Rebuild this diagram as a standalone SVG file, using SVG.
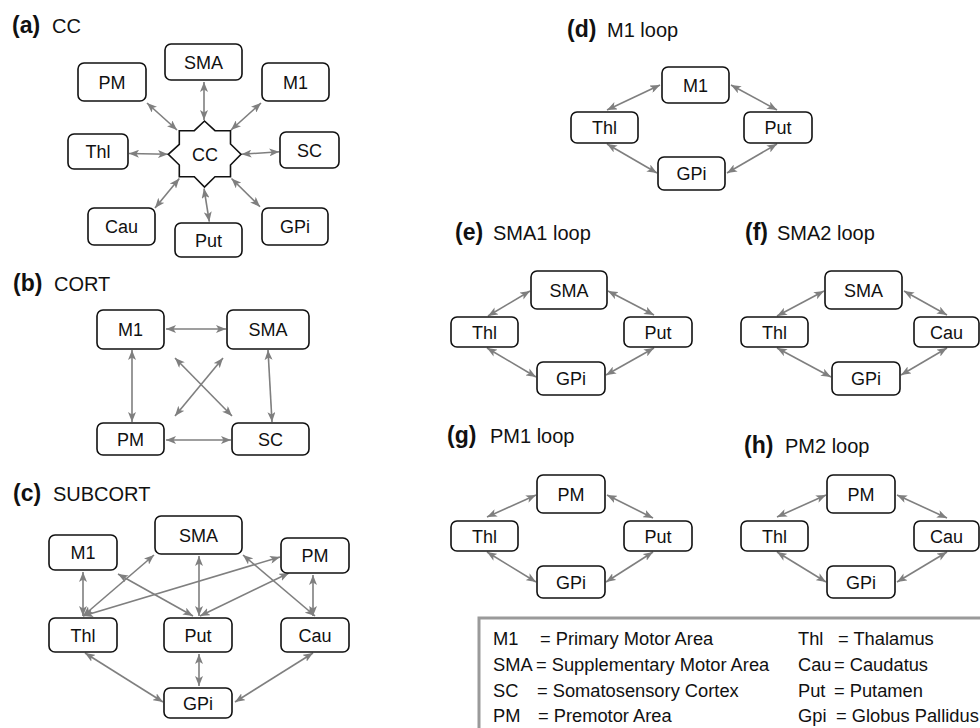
<svg xmlns="http://www.w3.org/2000/svg" width="980" height="728" viewBox="0 0 980 728">
<defs>
<marker id="ah" viewBox="0 0 10 8" refX="10" refY="4" markerWidth="10" markerHeight="8" markerUnits="userSpaceOnUse" orient="auto-start-reverse">
<path d="M0,0 L10,4 L0,8 L2.5,4 Z" fill="#7f7f7f"/>
</marker>
<style>
text{font-family:"Liberation Sans",Arial,sans-serif;fill:#111}
.box{fill:#fff;stroke:#111;stroke-width:1.6}
.lbl{font-size:18px;text-anchor:middle}
.edge{stroke:#7f7f7f;stroke-width:1.6;fill:none;marker-start:url(#ah);marker-end:url(#ah)}
.tl{font-size:23px;font-weight:bold}
.tn{font-size:20px}
.lg{font-size:18.3px}
</style>
</defs>
<rect width="980" height="728" fill="#fff"/>

<!-- titles -->
<g id="titles">
<text x="12" y="33"><tspan class="tl">(a)</tspan><tspan class="tn" x="52">CC</tspan></text>
<text x="13" y="291"><tspan class="tl">(b)</tspan><tspan class="tn" x="54">CORT</tspan></text>
<text x="13" y="501"><tspan class="tl">(c)</tspan><tspan class="tn" x="53">SUBCORT</tspan></text>
<text x="567" y="37"><tspan class="tl">(d)</tspan><tspan class="tn" x="607">M1 loop</tspan></text>
<text x="455" y="240"><tspan class="tl">(e)</tspan><tspan class="tn" x="493">SMA1 loop</tspan></text>
<text x="745" y="240"><tspan class="tl">(f)</tspan><tspan class="tn" x="777">SMA2 loop</tspan></text>
<text x="447" y="443"><tspan class="tl">(g)</tspan><tspan class="tn" x="490">PM1 loop</tspan></text>
<text x="744" y="453"><tspan class="tl">(h)</tspan><tspan class="tn" x="785">PM2 loop</tspan></text>
</g>

<!-- connectors -->
<g id="connectors">
<!-- (a) -->
<line class="edge" x1="204" y1="82" x2="204" y2="120"/>
<line class="edge" x1="147" y1="103" x2="177" y2="130"/>
<line class="edge" x1="261" y1="103" x2="231" y2="130"/>
<line class="edge" x1="129" y1="153.5" x2="168" y2="154.3"/>
<line class="edge" x1="241.5" y1="154.3" x2="279.3" y2="151.7"/>
<line class="edge" x1="155" y1="208" x2="179.3" y2="178.5"/>
<line class="edge" x1="209.3" y1="221.7" x2="204" y2="188.5"/>
<line class="edge" x1="260" y1="206.7" x2="231.5" y2="178.5"/>
<!-- (b) -->
<line class="edge" x1="166" y1="329" x2="226" y2="329"/>
<line class="edge" x1="132" y1="350" x2="132" y2="422"/>
<line class="edge" x1="268" y1="350" x2="272" y2="422"/>
<line class="edge" x1="166" y1="440" x2="231" y2="440"/>
<line class="edge" x1="175" y1="358" x2="232" y2="416"/>
<line class="edge" x1="223" y1="358" x2="175" y2="416"/>
<!-- (c) -->
<line class="edge" x1="83" y1="572" x2="83" y2="616"/>
<line class="edge" x1="83" y1="616" x2="154" y2="555"/>
<line class="edge" x1="83" y1="616" x2="280" y2="557"/>
<line class="edge" x1="118" y1="574" x2="193" y2="616"/>
<line class="edge" x1="199" y1="556" x2="199" y2="616"/>
<line class="edge" x1="289" y1="573" x2="200" y2="616"/>
<line class="edge" x1="243" y1="555" x2="315" y2="616"/>
<line class="edge" x1="313" y1="575" x2="313" y2="616"/>
<line class="edge" x1="85" y1="653" x2="163" y2="702"/>
<line class="edge" x1="199" y1="654" x2="199" y2="686"/>
<line class="edge" x1="313" y1="653" x2="235" y2="702"/>
<!-- (d) -->
<line class="edge" x1="607" y1="110" x2="660" y2="85"/>
<line class="edge" x1="731" y1="85" x2="777" y2="110"/>
<line class="edge" x1="607" y1="144" x2="657" y2="173"/>
<line class="edge" x1="777" y1="144" x2="727" y2="173"/>
<!-- (e) -->
<line class="edge" x1="488" y1="316" x2="530" y2="291"/>
<line class="edge" x1="608" y1="291" x2="654" y2="315"/>
<line class="edge" x1="487" y1="348" x2="536" y2="377"/>
<line class="edge" x1="654" y1="348" x2="606" y2="375"/>
<!-- (f) -->
<line class="edge" x1="777" y1="316" x2="824" y2="291"/>
<line class="edge" x1="904" y1="291" x2="947" y2="315"/>
<line class="edge" x1="777" y1="348" x2="831" y2="377"/>
<line class="edge" x1="947" y1="348" x2="901" y2="375"/>
<!-- (g) -->
<line class="edge" x1="487" y1="517" x2="536" y2="495"/>
<line class="edge" x1="607" y1="495" x2="653" y2="518"/>
<line class="edge" x1="487" y1="552" x2="536" y2="582"/>
<line class="edge" x1="653" y1="552" x2="606" y2="582"/>
<!-- (h) -->
<line class="edge" x1="777" y1="517" x2="826" y2="495"/>
<line class="edge" x1="897" y1="495" x2="947" y2="518"/>
<line class="edge" x1="777" y1="552" x2="826" y2="582"/>
<line class="edge" x1="947" y1="552" x2="897" y2="582"/>
</g>

<!-- (a) CC nodes -->
<g id="a-CC"><path class="box" d="M179.3,130.7 L194.3,130.7 L204.5,121 L215,130.7 L230.5,130.7 L230.5,144 L241,154.3 L230.5,165 L230.5,176.7 L215,176.7 L204.5,187 L194.3,176.7 L179.3,176.7 L179.3,165 L168.3,154.3 L179.3,144.3 Z"/><text class="lbl" x="205" y="160.5">CC</text></g>
<g id="a-SMA"><rect class="box" x="165" y="44" width="77" height="36" rx="6"/><text class="lbl" x="203.5" y="68.5">SMA</text></g>
<g id="a-PM"><rect class="box" x="78" y="63" width="68" height="38" rx="6"/><text class="lbl" x="112" y="88.5">PM</text></g>
<g id="a-M1"><rect class="box" x="262" y="63" width="67" height="38" rx="6"/><text class="lbl" x="295.5" y="88.5">M1</text></g>
<g id="a-Thl"><rect class="box" x="68" y="134" width="60" height="35" rx="6"/><text class="lbl" x="98" y="158">Thl</text></g>
<g id="a-SC"><rect class="box" x="280" y="132" width="59" height="36" rx="6"/><text class="lbl" x="309.5" y="156.5">SC</text></g>
<g id="a-Cau"><rect class="box" x="88" y="208" width="67" height="37" rx="6"/><text class="lbl" x="121.5" y="233">Cau</text></g>
<g id="a-Put"><rect class="box" x="175" y="223" width="67" height="34" rx="6"/><text class="lbl" x="208.5" y="246.5">Put</text></g>
<g id="a-GPi"><rect class="box" x="262" y="208" width="66" height="37" rx="6"/><text class="lbl" x="295" y="233">GPi</text></g>

<!-- (b) CORT nodes -->
<g id="b-M1"><rect class="box" x="97" y="310" width="67" height="39" rx="6"/><text class="lbl" x="130.5" y="336">M1</text></g>
<g id="b-SMA"><rect class="box" x="227" y="310" width="82" height="39" rx="6"/><text class="lbl" x="268" y="336">SMA</text></g>
<g id="b-PM"><rect class="box" x="97" y="423" width="67" height="32" rx="6"/><text class="lbl" x="130.5" y="445.5">PM</text></g>
<g id="b-SC"><rect class="box" x="232" y="423" width="77" height="32" rx="6"/><text class="lbl" x="270.5" y="445.5">SC</text></g>

<!-- (c) SUBCORT nodes -->
<g id="c-M1"><rect class="box" x="49" y="535" width="68" height="35" rx="6"/><text class="lbl" x="83" y="559">M1</text></g>
<g id="c-SMA"><rect class="box" x="155" y="516" width="87" height="38" rx="6"/><text class="lbl" x="198.5" y="541.5">SMA</text></g>
<g id="c-PM"><rect class="box" x="281" y="538" width="68" height="35" rx="6"/><text class="lbl" x="315" y="562">PM</text></g>
<g id="c-Thl"><rect class="box" x="49" y="618" width="68" height="34" rx="6"/><text class="lbl" x="83" y="641.5">Thl</text></g>
<g id="c-Put"><rect class="box" x="164" y="618" width="68" height="34" rx="6"/><text class="lbl" x="198" y="641.5">Put</text></g>
<g id="c-Cau"><rect class="box" x="281" y="618" width="68" height="34" rx="6"/><text class="lbl" x="315" y="641.5">Cau</text></g>
<g id="c-GPi"><rect class="box" x="164" y="688" width="68" height="30" rx="6"/><text class="lbl" x="198" y="709.5">GPi</text></g>

<!-- (d) M1 loop -->
<g id="d-M1"><rect class="box" x="662" y="67" width="67" height="36" rx="6"/><text class="lbl" x="695.5" y="91.5">M1</text></g>
<g id="d-Thl"><rect class="box" x="571" y="112" width="67" height="31" rx="6"/><text class="lbl" x="604.5" y="134">Thl</text></g>
<g id="d-Put"><rect class="box" x="744" y="112" width="68" height="31" rx="6"/><text class="lbl" x="778" y="134">Put</text></g>
<g id="d-GPi"><rect class="box" x="658" y="157" width="67" height="33" rx="6"/><text class="lbl" x="691.5" y="180">GPi</text></g>

<!-- (e) SMA1 loop -->
<g id="e-SMA"><rect class="box" x="531" y="271" width="76" height="38" rx="6"/><text class="lbl" x="569" y="296.5">SMA</text></g>
<g id="e-Thl"><rect class="box" x="451" y="317" width="67" height="30" rx="6"/><text class="lbl" x="484.5" y="338.5">Thl</text></g>
<g id="e-Put"><rect class="box" x="624" y="317" width="68" height="30" rx="6"/><text class="lbl" x="658" y="338.5">Put</text></g>
<g id="e-GPi"><rect class="box" x="537" y="362" width="68" height="33" rx="6"/><text class="lbl" x="571" y="385">GPi</text></g>

<!-- (f) SMA2 loop -->
<g id="f-SMA"><rect class="box" x="825" y="271" width="77" height="38" rx="6"/><text class="lbl" x="863.5" y="296.5">SMA</text></g>
<g id="f-Thl"><rect class="box" x="741" y="317" width="67" height="30" rx="6"/><text class="lbl" x="774.5" y="338.5">Thl</text></g>
<g id="f-Cau"><rect class="box" x="914" y="317" width="65" height="30" rx="6"/><text class="lbl" x="946.5" y="338.5">Cau</text></g>
<g id="f-GPi"><rect class="box" x="832" y="362" width="68" height="33" rx="6"/><text class="lbl" x="866" y="385">GPi</text></g>

<!-- (g) PM1 loop -->
<g id="g-PM"><rect class="box" x="537" y="475" width="68" height="38" rx="6"/><text class="lbl" x="571" y="500.5">PM</text></g>
<g id="g-Thl"><rect class="box" x="451" y="521" width="67" height="30" rx="6"/><text class="lbl" x="484.5" y="542.5">Thl</text></g>
<g id="g-Put"><rect class="box" x="624" y="521" width="68" height="30" rx="6"/><text class="lbl" x="658" y="542.5">Put</text></g>
<g id="g-GPi"><rect class="box" x="537" y="566" width="68" height="32" rx="6"/><text class="lbl" x="571" y="588.5">GPi</text></g>

<!-- (h) PM2 loop -->
<g id="h-PM"><rect class="box" x="827" y="475" width="68" height="38" rx="6"/><text class="lbl" x="861" y="500.5">PM</text></g>
<g id="h-Thl"><rect class="box" x="741" y="521" width="67" height="30" rx="6"/><text class="lbl" x="774.5" y="542.5">Thl</text></g>
<g id="h-Cau"><rect class="box" x="914" y="521" width="65" height="30" rx="6"/><text class="lbl" x="946.5" y="542.5">Cau</text></g>
<g id="h-GPi"><rect class="box" x="827" y="566" width="68" height="32" rx="6"/><text class="lbl" x="861" y="588.5">GPi</text></g>

<!-- legend -->
<g id="legend">
<rect x="479" y="618" width="600" height="200" fill="none" stroke="#9a9a9a" stroke-width="3"/>
<text class="lg" x="493" y="645">M1</text><text class="lg" x="540" y="645">= Primary Motor Area</text>
<text class="lg" x="493" y="671">SMA</text><text class="lg" x="536" y="671">= Supplementary Motor Area</text>
<text class="lg" x="493" y="697">SC</text><text class="lg" x="537" y="697">= Somatosensory Cortex</text>
<text class="lg" x="493" y="722">PM</text><text class="lg" x="538" y="722">= Premotor Area</text>
<text class="lg" x="798" y="645">Thl</text><text class="lg" x="838" y="645">= Thalamus</text>
<text class="lg" x="798" y="671">Cau</text><text class="lg" x="834" y="671">= Caudatus</text>
<text class="lg" x="798" y="697">Put</text><text class="lg" x="834" y="697">= Putamen</text>
<text class="lg" x="798" y="722">Gpi</text><text class="lg" x="836" y="722">= Globus Pallidus</text>
</g>
</svg>
